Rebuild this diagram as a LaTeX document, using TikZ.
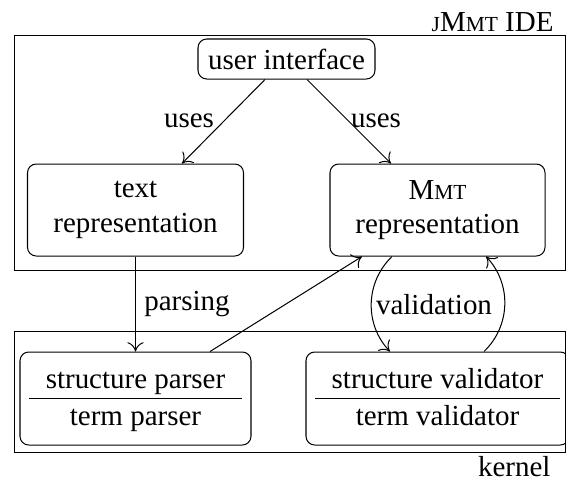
\documentclass[tikz,border=0pt]{standalone}
\usepackage{fontspec}
\setmainfont{Liberation Serif}
\usetikzlibrary{calc,arrows.meta}
\newcommand{\fsc}[1]{{\fontsize{7.4}{9}\selectfont #1}}
\tikzset{
  rbox/.style={draw, rounded corners=3pt, inner sep=0pt, align=center},
  lbl/.style={inner sep=0pt},
  conn/.style={-{To[length=3.2pt,width=5.6pt]}, line width=0.35pt},
}
\begin{document}
\begin{tikzpicture}[x=0.345pt, y=-0.345pt, line width=0.35pt, font=\fontsize{10}{12}\selectfont]
\useasboundingbox (0,0) rectangle (566,479);
% containers
\draw (14.5,35.5) rectangle (565.5,270.5);
\draw (14.5,331.5) rectangle (565.5,452.5);
\node[lbl, anchor=base east] (ide) at (554,31) {\fsc{J}M\fsc{MT} IDE};
\node[lbl, anchor=base east] (kern) at (551,476) {kernel};
% nodes
\node[rbox, minimum width=177*0.345pt, minimum height=40*0.345pt] (ui) at (286.5,59) {user interface};
\node[rbox, minimum width=216*0.345pt, minimum height=92*0.345pt] (tx) at (135.5,210) {text\\representation};
\node[rbox, minimum width=215*0.345pt, minimum height=92*0.345pt] (mmt) at (437.5,210) {M\fsc{MT}\\representation};
\node[rbox, minimum width=231*0.345pt, minimum height=93*0.345pt] (par) at (135.5,398.5) {};
\node[rbox, minimum width=263*0.345pt, minimum height=93*0.345pt] (val) at (437.5,398.5) {};
\node[lbl, anchor=base] (sp) at (135.5,388) {structure parser};
\node[lbl, anchor=base] (tp) at (135.5,425) {term parser};
\node[lbl, anchor=base] (sv) at (437.5,388) {structure validator};
\node[lbl, anchor=base] (tv) at (437.5,425) {term validator};
\draw ($(par.west)+(9.5,0)$) -- ($(par.east)+(-9.5,0)$);
\draw ($(val.west)+(10,0)$) -- ($(val.east)+(-10,0)$);
% connectors
\draw[conn] ($(ui.south)+(-21.5,0)$) -- ($(tx.north)+(46.5,0)$);
\draw[conn] ($(ui.south)+(20.5,0)$) -- ($(mmt.north)+(-46.5,0)$);
\draw[conn] (tx.south) -- (tx.south |- par.north);
\draw[conn] ($(par.north)+(74.5,0)$) -- ($(mmt.south)+(-75.5,0)$);
\draw[conn] ($(mmt.south)+(-45.5,0)$) to[bend right=45] ($(val.north)+(-47.5,0)$);
\draw[conn] ($(val.north)+(46.5,0)$) to[bend right=45] ($(mmt.south)+(48.5,0)$);
% labels
\node[lbl] (u1) at (189,121) {uses};
\node[lbl] (u2) at (376,121) {uses};
\node[lbl] (pa) at (187,304) {parsing};
\node[lbl] (va) at (434,305) {validation};
\end{tikzpicture}
\end{document}
